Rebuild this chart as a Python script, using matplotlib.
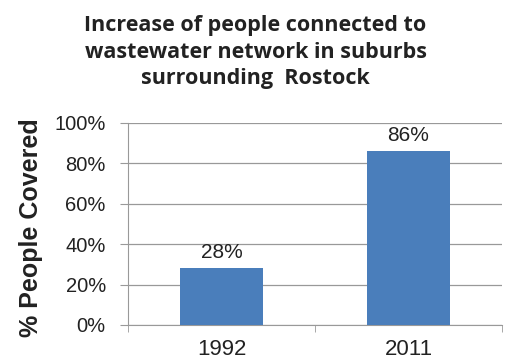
import matplotlib.pyplot as plt
import numpy as np

years = ["1992", "2011"]
covered = [28, 86]
yticks = [0, 20, 40, 60, 80, 100]

fig = plt.figure(figsize=(5.11, 3.62), dpi=100)
ax = fig.add_axes([128/511, 1 - 325/362, (502-128)/511, (325-123)/362])

x = np.arange(len(years))
ax.bar(x, covered, width=0.44, color="#4a7ebb", zorder=3)
for xi, v in zip(x, covered):
    ax.text(xi, v + 3, f"{v}%", ha="center", va="bottom",
            fontsize=15, family="Liberation Sans", color="#222222")

ax.set_xlim(-0.5, 1.5)
ax.set_ylim(0, 100)
ax.set_yticks(yticks)
ax.set_yticklabels([f"{t}%" for t in yticks], fontsize=14.5, family="Liberation Sans", color="#222222")
ax.set_xticks(x)
ax.set_xticklabels(years, fontsize=16, family="Liberation Sans", color="#222222")
ax.set_xticks([-0.5, 0.5, 1.5], minor=True)
ax.tick_params(axis="x", which="major", length=0, pad=10)
ax.tick_params(axis="x", which="minor", length=5, color="#999999")
ax.tick_params(axis="y", length=6, color="#999999", pad=10)
ax.grid(axis="y", color="#999999", linewidth=0.9, zorder=0)
for s in ["top", "right"]:
    ax.spines[s].set_visible(False)
for s in ["left", "bottom"]:
    ax.spines[s].set_color("#999999")

# y label placed at x ~31 px, centred on the plot height
ax.set_ylabel("% People Covered", fontsize=18, fontweight="bold",
              family="Liberation Sans", color="#222222")
ax.yaxis.set_label_coords((31-128)/(502-128), (325-228)/(325-123))
ax.yaxis.label.set_va("center")

fig.text(0.5, 1 - 52/362, "Increase of people connected to\nwastewater network in suburbs\nsurrounding  Rostock",
         ha="center", va="center", fontsize=15.5, fontweight="bold",
         family="Open Sans", color="#222222", linespacing=1.35)

fig.savefig("out.png", dpi=100, facecolor="white")
